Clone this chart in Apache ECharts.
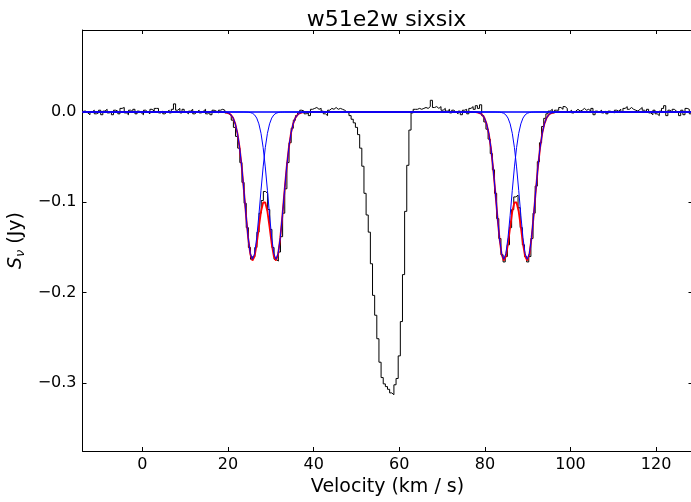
<!DOCTYPE html>
<html><head><meta charset="utf-8">
<script src="https://cdn.jsdelivr.net/npm/echarts@6/dist/echarts.min.js"></script>
<style>html,body{margin:0;padding:0;background:#fff}#c{width:691px;height:502px}</style>
</head><body><div id="c"></div>
<script>
// ---- spectrum (channel centres, km/s) ----
const chanWidth = 0.5;
const seg1Start = -14.0;
const seg1Flux = [
-0.002, 0.001, -0.001, -0.003, 0.000, 0.002, -0.002, -0.001, 0.002, -0.003,
0.001, 0.003, -0.001, 0.000, -0.003, 0.002, 0.001, -0.002, 0.004, 0.005,
-0.001, -0.003, 0.002, 0.000, 0.003, -0.002, 0.001, -0.001, -0.003, 0.002,
0.000, -0.002, 0.003, 0.001, 0.004, 0.004, -0.001, 0.001, -0.002, 0.000,
0.002, -0.001, 0.003, 0.009, 0.002, 0.004, -0.001, 0.003, 0.000, -0.002,
0.001, 0.003, -0.002, 0.000, 0.002, -0.001, 0.001, 0.003, -0.002, 0.000,
-0.003, 0.002, 0.001, -0.001, 0.002, 0.003];
const seg2Start = 19.0;
const seg2Flux = [
0.002, -0.001, -0.002, -0.004, -0.009, -0.017, -0.027, -0.040, -0.056, -0.078,
-0.101, -0.128, -0.150, -0.163, -0.160, -0.150, -0.133, -0.112, -0.098, -0.088,
-0.090, -0.108, -0.130, -0.150, -0.163, -0.165, -0.155, -0.138, -0.112, -0.085,
-0.056, -0.034, -0.018, -0.009, -0.004, -0.001, 0.002, 0.001, -0.002];
const seg3Start = 38.5;
const seg3Flux = [
-0.001, -0.004, 0.003, 0.004, 0.005, 0.003, 0.004, 0.001, -0.002, -0.004,
0.002, 0.004, 0.003, 0.005, 0.003, 0.004, 0.003, 0.002, 0.000];
const seg4Start = 48.0;
const seg4Flux = [
-0.001, -0.004, -0.008, -0.012, -0.017, -0.025, -0.040, -0.060, -0.090, -0.114,
-0.133, -0.168, -0.203, -0.225, -0.251, -0.277, -0.294, -0.301, -0.304, -0.307,
-0.311, -0.313, -0.302, -0.295, -0.270, -0.232, -0.180, -0.110, -0.059, -0.020,
-0.001, 0.003];
const seg5Start = 64.0;
const seg5Flux = [
0.003, 0.004, 0.003, 0.004, 0.005, 0.004, 0.006, 0.013, 0.005, 0.006,
0.004, 0.006, 0.002, 0.004, 0.001, 0.003, -0.001, 0.002, 0.000, -0.002,
0.001, -0.003, 0.002, 0.003, -0.002, 0.004, 0.006, 0.003, 0.007, 0.004,
0.008];
const seg6Start = 79.5;
const seg6Flux = [
-0.004, -0.011, -0.019, -0.030, -0.046, -0.064, -0.090, -0.118, -0.140, -0.158,
-0.166, -0.160, -0.147, -0.128, -0.108, -0.094, -0.092, -0.106, -0.128, -0.147,
-0.160, -0.166, -0.160, -0.140, -0.112, -0.082, -0.055, -0.034, -0.016, -0.007,
-0.002, 0.001, 0.003, -0.001, 0.002];
const seg7Start = 97.0;
const seg7Flux = [
0.002, 0.005, 0.003, 0.006, 0.004, 0.000, 0.002, -0.001, 0.001, 0.003,
0.001, 0.002, 0.004, 0.002, 0.003, 0.001, 0.004, -0.003, 0.001, 0.000,
0.002, -0.001, 0.001, -0.002, 0.001, 0.000, -0.001, 0.002, 0.001, 0.003,
0.000, 0.004, 0.006, 0.003, 0.005, 0.003, 0.002, 0.001, 0.003, 0.005,
0.002, 0.000, 0.003, -0.001, -0.003, 0.002, -0.002, -0.004, 0.001, 0.004,
0.007, -0.004, 0.002, 0.000, 0.003, 0.001, -0.001, -0.004, 0.002, -0.003,
0.004, 0.003, -0.002, 0.001];

// ---- fitted components (sampled every 0.5 km/s) ----
const fitStep = 0.5;
const blueAStart = 18.2;
const blueA = [0, -0.0001, -0.0002, -0.0006, -0.0014, -0.0032, -0.0067, -0.0131, -0.0236, -0.0394, -0.0608, -0.0867, -0.1143, -0.1392, -0.1567, -0.1630, -0.1567, -0.1392, -0.1143, -0.0867, -0.0608, -0.0394, -0.0236, -0.0131, -0.0067, -0.0032, -0.0014, -0.0006, -0.0002, -0.0001, 0];
const blueBStart = 23.7;
const blueB = [0, -0.0001, -0.0002, -0.0006, -0.0014, -0.0032, -0.0067, -0.0131, -0.0236, -0.0394, -0.0608, -0.0867, -0.1143, -0.1392, -0.1567, -0.1630, -0.1567, -0.1392, -0.1143, -0.0867, -0.0608, -0.0394, -0.0236, -0.0131, -0.0067, -0.0032, -0.0014, -0.0006, -0.0002, -0.0001, 0];
const blueCStart = 76.9;
const blueC = [0, -0.0001, -0.0002, -0.0006, -0.0014, -0.0032, -0.0067, -0.0131, -0.0236, -0.0394, -0.0608, -0.0867, -0.1143, -0.1392, -0.1567, -0.1630, -0.1567, -0.1392, -0.1143, -0.0867, -0.0608, -0.0394, -0.0236, -0.0131, -0.0067, -0.0032, -0.0014, -0.0006, -0.0002, -0.0001, 0];
const blueDStart = 82.4;
const blueD = [0, -0.0001, -0.0002, -0.0006, -0.0014, -0.0032, -0.0067, -0.0131, -0.0236, -0.0394, -0.0608, -0.0867, -0.1143, -0.1392, -0.1567, -0.1630, -0.1567, -0.1392, -0.1143, -0.0867, -0.0608, -0.0394, -0.0236, -0.0131, -0.0067, -0.0032, -0.0014, -0.0006, -0.0002, -0.0001, 0];
const redAStart = 18.2;
const redA = [0, -0.0001, -0.0002, -0.0006, -0.0014, -0.0032, -0.0067, -0.0131, -0.0236, -0.0394, -0.0608, -0.0867, -0.1144, -0.1394, -0.1573, -0.1644, -0.1599, -0.1459, -0.1274, -0.1103, -0.1002, -0.1002, -0.1103, -0.1274, -0.1459, -0.1599, -0.1644, -0.1573, -0.1394, -0.1144, -0.0867, -0.0608, -0.0394, -0.0236, -0.0131, -0.0067, -0.0032, -0.0014, -0.0006, -0.0002, -0.0001, 0];
const redBStart = 76.9;
const redB = [0, -0.0001, -0.0002, -0.0006, -0.0014, -0.0032, -0.0067, -0.0131, -0.0236, -0.0394, -0.0608, -0.0867, -0.1144, -0.1394, -0.1573, -0.1644, -0.1599, -0.1459, -0.1274, -0.1103, -0.1002, -0.1002, -0.1103, -0.1274, -0.1459, -0.1599, -0.1644, -0.1573, -0.1394, -0.1144, -0.0867, -0.0608, -0.0394, -0.0236, -0.0131, -0.0067, -0.0032, -0.0014, -0.0006, -0.0002, -0.0001, 0];

// ---- axes ----
const xMin = -14.0, xMax = 128.5;
const yMin = -0.3753, yMax = 0.0908;
const xTicks = [0, 20, 40, 60, 80, 100, 120];
const yTicks = [-0.3, -0.2, -0.1, 0.0];
const titleText = 'w51e2w sixsix';
const xName = 'Velocity (km / s)';

function pairs(start, step, vals) {
  return vals.map((v, i) => [+(start + i * step).toFixed(3), v]);
}
const spectrum = [].concat(
  pairs(seg1Start, chanWidth, seg1Flux), pairs(seg2Start, chanWidth, seg2Flux),
  pairs(seg3Start, chanWidth, seg3Flux), pairs(seg4Start, chanWidth, seg4Flux),
  pairs(seg5Start, chanWidth, seg5Flux), pairs(seg6Start, chanWidth, seg6Flux),
  pairs(seg7Start, chanWidth, seg7Flux));
function fullRange(parts) {
  return [[xMin, 0]].concat(...parts, [[xMax, 0]]);
}
const redData = fullRange([pairs(redAStart, fitStep, redA), pairs(redBStart, fitStep, redB)]);
const blues = [[blueAStart, blueA], [blueBStart, blueB], [blueCStart, blueC], [blueDStart, blueD]]
  .map(b => fullRange([pairs(b[0], fitStep, b[1])]));

const FONT = 'DejaVu Sans';
const fmtY = v => (v < -1e-9 ? '\u2212' : '') + Math.abs(v).toFixed(1);

const chart = echarts.init(document.getElementById('c'), null, { renderer: 'canvas' });
const lineBase = { type: 'line', showSymbol: false, symbol: 'none', silent: true, animation: false };
chart.setOption({
  animation: false,
  backgroundColor: '#fff',
  title: {
    text: titleText, left: 386.5, top: 9, textAlign: 'center', padding: 0,
    textStyle: { fontFamily: FONT, fontSize: 22, fontWeight: 'normal', color: '#000' }
  },
  grid: { left: 82.5, top: 30, width: 610, height: 421, containLabel: false, outerBoundsMode: 'none' },
  xAxis: [{
    type: 'value', min: xMin, max: xMax, position: 'bottom',
    axisLine: { show: true, onZero: false, lineStyle: { color: '#000', width: 1 } },
    axisTick: { show: true, inside: true, length: 4, customValues: xTicks, lineStyle: { color: '#000' } },
    axisLabel: { show: true, customValues: xTicks, fontFamily: FONT, fontSize: 16, color: '#000', margin: 6 },
    splitLine: { show: false },
    name: xName, nameLocation: 'middle', nameGap: 25,
    nameTextStyle: { fontFamily: FONT, fontSize: 19, color: '#000' }
  }, {
    type: 'value', min: xMin, max: xMax, position: 'top',
    axisLine: { show: true, onZero: false, lineStyle: { color: '#000', width: 1 } },
    axisTick: { show: true, inside: true, length: 4, customValues: xTicks, lineStyle: { color: '#000' } },
    axisLabel: { show: false }, splitLine: { show: false }
  }],
  yAxis: [{
    type: 'value', min: yMin, max: yMax, position: 'left',
    axisLine: { show: true, onZero: false, lineStyle: { color: '#000', width: 1 } },
    axisTick: { show: true, inside: true, length: 4, customValues: yTicks, lineStyle: { color: '#000' } },
    axisLabel: { show: true, customValues: yTicks, formatter: fmtY, fontFamily: FONT, fontSize: 16, color: '#000', margin: 6 },
    splitLine: { show: false },
    name: '{i|S}{s|\u03bd} (Jy)', nameLocation: 'middle', nameGap: 47, nameRotate: 90,
    nameTextStyle: {
      fontFamily: FONT, fontSize: 19, color: '#000',
      rich: {
        i: { fontFamily: FONT, fontStyle: 'italic', fontSize: 19, color: '#000' },
        s: { fontFamily: FONT, fontStyle: 'italic', fontSize: 13, color: '#000', verticalAlign: 'bottom', padding: [8, 0, 0, 0] }
      }
    }
  }, {
    type: 'value', min: yMin, max: yMax, position: 'right',
    axisLine: { show: true, onZero: false, lineStyle: { color: '#000', width: 1 } },
    axisTick: { show: true, inside: true, length: 4, customValues: yTicks, lineStyle: { color: '#000' } },
    axisLabel: { show: false }, splitLine: { show: false }
  }],
  series: [
    Object.assign({}, lineBase, { name: 'spectrum', data: spectrum, step: 'middle', z: 2,
      lineStyle: { color: '#000', width: 1 } }),
    Object.assign({}, lineBase, { name: 'total fit', data: redData, z: 3,
      lineStyle: { color: '#ff0000', width: 1.8 } }),
    ...blues.map((d, k) => Object.assign({}, lineBase, { name: 'comp' + k, data: d, z: 4,
      lineStyle: { color: '#0000ff', width: 1 } }))
  ]
});
</script>
</body></html>
